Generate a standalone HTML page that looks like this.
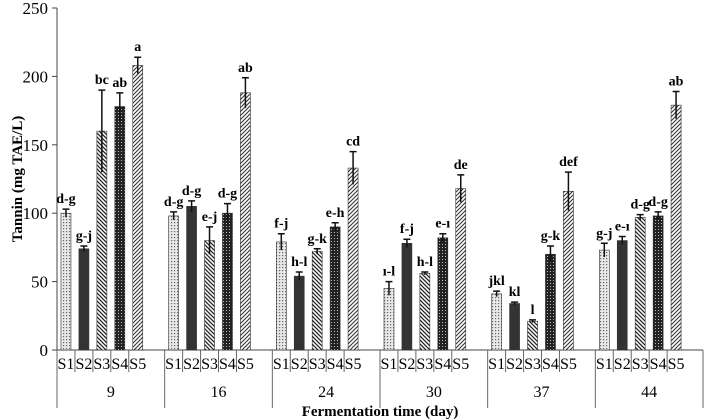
<!DOCTYPE html>
<html><head><meta charset="utf-8"><style>
body{margin:0;background:#fff}
svg{display:block;font-family:"Liberation Serif",serif}
</style></head><body>
<svg id="chart" width="709" height="420">
<defs>
<pattern id="p1" width="3" height="3" patternUnits="userSpaceOnUse"><rect width="3" height="3" fill="#e8e8e8"/><rect width="1.2" height="1.2" fill="#666"/></pattern>
<pattern id="p3" width="4" height="4" patternUnits="userSpaceOnUse"><rect width="4" height="4" fill="#fff"/><path d="M0,0L4,4M-1,3L1,5M3,-1L5,1" stroke="#222" stroke-width="1.3"/></pattern>
<pattern id="p4" width="3" height="3" patternUnits="userSpaceOnUse"><rect width="3" height="3" fill="#222"/><rect x="1" y="1" width="1" height="1" fill="#bbb"/></pattern>
<pattern id="p5" width="4" height="4" patternUnits="userSpaceOnUse"><rect width="4" height="4" fill="#fff"/><path d="M0,4L4,0M-1,1L1,-1M3,5L5,3" stroke="#333" stroke-width="1.1"/></pattern>
</defs>
<g id="g"></g>
</svg>
<script>
const days=["9","16","24","30","37","44"];
const samples=["S1","S2","S3","S4","S5"];
const values=[[100,74,160,178,208],[98,105,80,100,188],[79,54,72,90,133],[45,78,56,82,118],[41,34,21,70,116],[73,80,97,98,179]];
const errors=[[3,2,30,10,6],[3,4,10,7,11],[6,3,2,3,12],[5,3,1,3,10],[2,1,1,6,14],[5,3,2,3,10]];
const letters=[["d-g","g-j","bc","ab","a"],["d-g","d-g","e-j","d-g","ab"],["f-j","h-l","g-k","e-h","cd"],["ı-l","f-j","h-l","e-ı","de"],["jkl","kl","l","g-k","def"],["g-j","e-ı","d-g","d-g","ab"]];
const yTicks=[0,50,100,150,200,250];
const fills=["url(#p1)","#333","url(#p3)","url(#p4)","url(#p5)"];
const NS="http://www.w3.org/2000/svg";
const g=document.getElementById("g");
const X0=57,X1=703,Y0=350,Y1=8,YMAX=250;
const gw=(X1-X0)/days.length, sw=gw/6;
const y=v=>Y0-(v/YMAX)*(Y0-Y1);
function el(t,a,txt){const e=document.createElementNS(NS,t);for(const k in a)e.setAttribute(k,a[k]);if(txt!=null)e.textContent=txt;g.appendChild(e);return e;}
let ax=el("line",{x1:X0,y1:Y1,x2:X0,y2:Y0,stroke:"#444"});


let bx=el("line",{x1:X0,y1:Y0,x2:X1,y2:Y0,stroke:"#444"});


yTicks.forEach(t=>{
 let l=el("line",{x1:X0-5,y1:y(t),x2:X0,y2:y(t),stroke:"#444"});
 
 
 let tx=el("text",{x:X0-9,y:y(t)+6,"text-anchor":"end","font-size":"17"},t);
 
 
});
let yt=el("text",{x:22,y:(Y0+Y1)/2,"text-anchor":"middle","font-size":"15","font-weight":"bold",transform:`rotate(-90 22 ${(Y0+Y1)/2})`},"Tannin (mg TAE/L)");


days.forEach((d,i)=>{
 const gx=X0+i*gw;
 let sep=el("line",{x1:gx,y1:Y0,x2:gx,y2:408,stroke:"#666"});
 
 
 samples.forEach((s,j)=>{
  const cx=gx+sw*(j+0.5), v=values[i][j], e=errors[i][j];
  if(j>0){let l=el("line",{x1:gx+sw*j,y1:Y0,x2:gx+sw*j,y2:372,stroke:"#666"});}
  let b=el("rect",{x:cx-5,y:y(v),width:10,height:Y0-y(v),fill:fills[j],stroke:"#333","stroke-width":"0.6"});
  
  
  let eb=el("path",{d:`M${cx},${y(v-e)}V${y(v+e)}M${cx-3.5},${y(v+e)}H${cx+3.5}`,stroke:"#111","stroke-width":"1.5",fill:"none"});
  
  
  let lt=el("text",{x:cx,y:y(v+e)-6,"text-anchor":"middle","font-size":"14","font-weight":"bold"},letters[i][j]);
  
  
  let sl=el("text",{x:cx,y:369,"text-anchor":"middle","font-size":"16"},s);
  
  
 });
 let gl=el("text",{x:gx+gw/2,y:397,"text-anchor":"middle","font-size":"16"},d);
 
 
});
let last=el("line",{x1:X1,y1:Y0,x2:X1,y2:408,stroke:"#666"});


let xt=el("text",{x:(X0+X1)/2,y:416,"text-anchor":"middle","font-size":"15","font-weight":"bold"},"Fermentation time (day)");


</script>
</body></html>
